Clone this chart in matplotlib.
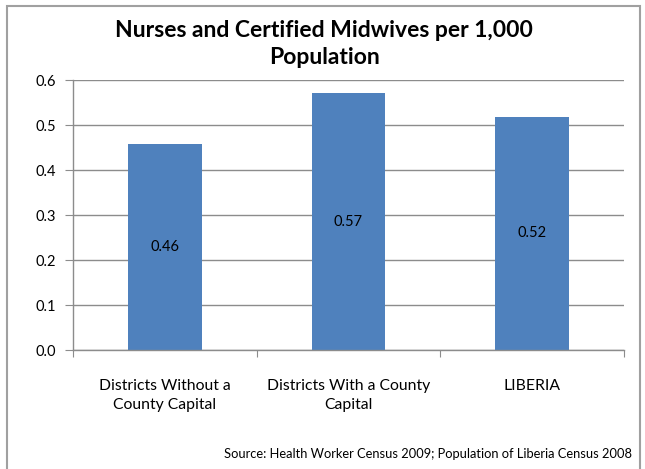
import matplotlib.pyplot as plt
from matplotlib.patches import Rectangle

categories = ["Districts Without a\nCounty Capital", "Districts With a County\nCapital", "LIBERIA"]
values = [0.458, 0.571, 0.518]
y_ticks = [0.0, 0.1, 0.2, 0.3, 0.4, 0.5, 0.6]

W, H = 645, 469
fig = plt.figure(figsize=(W / 100, H / 100), dpi=100)
plt.rcParams["font.family"] = ["Lato", "DejaVu Sans"]

# plot area in pixels: x 73..624, y 80..350
ax = fig.add_axes([73 / W, 1 - 350 / H, (624 - 73) / W, (350 - 80) / H])

x = range(len(categories))
bars = ax.bar(x, values, width=0.4, color="#4F81BD", zorder=3)
for b, v in zip(bars, values):
    ax.text(b.get_x() + b.get_width() / 2, v / 2, f"{v:.2f}",
            ha="center", va="center", fontsize=10.5, color="black", zorder=4)

ax.set_xlim(-0.5, len(categories) - 0.5)
ax.set_ylim(0, 0.6)
ax.set_yticks(y_ticks)
ax.set_yticklabels([f"{t:.1f}" for t in y_ticks], fontsize=10.5)
ax.yaxis.grid(True, color="#8C8C8C", linewidth=1, zorder=0)

# category ticks sit on boundaries, labels in the middle
ax.set_xticks([i - 0.5 for i in range(len(categories) + 1)])
ax.set_xticklabels([])
ax.set_xticks(list(x), minor=True)
ax.set_xticklabels(categories, minor=True, fontsize=11.3, linespacing=1.45)
ax.tick_params(axis="x", which="minor", length=0, pad=21)
ax.tick_params(axis="x", which="major", length=5, color="#8C8C8C", direction="out")
ax.tick_params(axis="y", length=6, color="#8C8C8C", pad=6)

for s in ["top", "right"]:
    ax.spines[s].set_visible(False)
for s in ["left", "bottom"]:
    ax.spines[s].set_color("#8C8C8C")
    ax.spines[s].set_linewidth(1)
    ax.spines[s].set_zorder(5)

fig.text(324 / W, 1 - 44 / H, "Nurses and Certified Midwives per 1,000\nPopulation",
         ha="center", va="center", fontsize=16.5, fontweight="bold", linespacing=1.35)

fig.text(632 / W, 1 - 454 / H, "Source: Health Worker Census 2009; Population of Liberia Census 2008",
         ha="right", va="center", fontsize=9.3)

# chart frame, open at the bottom edge of the image
fig.patches.append(Rectangle((7 / W, -0.05), (640 - 7) / W, 1.05 - 6 / H,
                             transform=fig.transFigure, fill=False,
                             edgecolor="#A0A0A0", linewidth=1.5))

fig.savefig("out.png", dpi=100)
